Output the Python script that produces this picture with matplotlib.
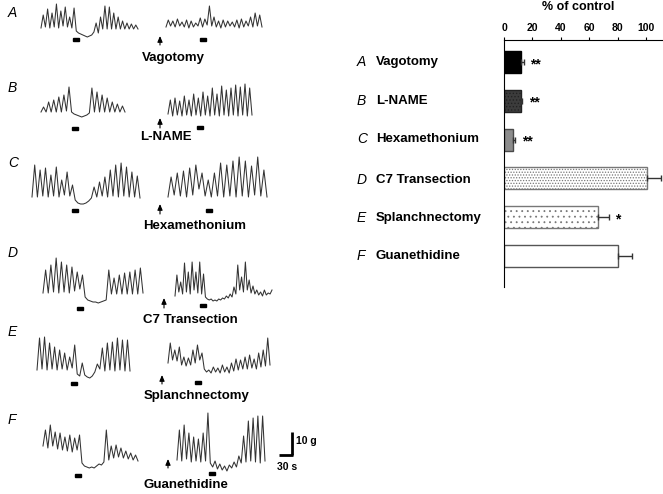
import numpy as np
import matplotlib.pyplot as plt

plt.rcParams['font.family'] = ['Liberation Sans', 'DejaVu Sans']
plt.rcParams['hatch.linewidth'] = 0.6

# bar chart: response after each treatment, % of control
letters = ['A', 'B', 'C', 'D', 'E', 'F']
treatments = ['Vagotomy', 'L-NAME', 'Hexamethonium', 'C7 Transection',
              'Splanchnectomy', 'Guanethidine']
pct_control = [12, 12, 6.5, 100.5, 66.5, 80.5]
pct_sem = [2, 1, 1.5, 10, 7.5, 9.5]
signif = ['**', '**', '**', '', '*', '']

# contraction traces (force), before / after treatment
trace_A_pre = [9, 22, 10, 28, 9, 24, 10, 33, 9, 26, 11, 30, 10, 20, 9, 29, 6, 4, 3, 2, 1, 0, 1, 2,
               5, 14, 4, 20, 8, 31, 8, 30, 8, 24, 8, 20, 8, 16, 8, 14, 8, 13, 8, 12, 8]
trace_A_post = [2, 9, 3, 8, 2, 10, 3, 7, 2, 9, 1, 8, 2, 6, 3, 11, 2, 10, 4, 23, 3, 12, 2, 8, 1, 9,
                2, 8, 3, 7, 2, 9, 1, 10, 2, 8, 3, 12, 2, 16, 3, 14, 2]
trace_B_pre = [5, 10, 5, 15, 5, 17, 5, 20, 5, 22, 6, 30, 5, 3, 2, 1, 0, 1, 2, 4, 29, 5, 25, 5,
               22, 5, 19, 5, 15, 5, 13, 5, 11, 5]
trace_B_post = [4, 18, 2, 20, 3, 17, 2, 22, 3, 18, 2, 24, 3, 20, 2, 26, 3, 22, 2, 30, 3, 24, 2,
                32, 3, 28, 2, 30, 3, 33, 2, 31, 3, 34, 2, 30, 3]
trace_C_pre = [7, 39, 7, 34, 8, 36, 7, 29, 8, 37, 7, 24, 9, 32, 8, 19, 4, 1, 0, 0, 1, 3, 6, 17,
               7, 22, 8, 27, 7, 34, 8, 39, 7, 41, 8, 37, 7, 32, 7, 28, 6]
trace_C_post = [2, 22, 4, 26, 3, 28, 2, 31, 4, 34, 10, 26, 3, 19, 2, 26, 3, 36, 2, 34, 3, 38, 2,
                42, 3, 38, 2, 33, 4, 42, 3, 29, 2]
trace_D_pre = [10, 33, 10, 38, 11, 45, 10, 41, 11, 38, 10, 36, 12, 31, 14, 28, 6, 3, 2, 1, 1, 0,
               1, 2, 3, 33, 9, 25, 9, 28, 9, 30, 9, 31, 9, 33, 9, 35, 10]
trace_D_post = [6, 27, 10, 20, 8, 39, 10, 30, 8, 40, 12, 30, 9, 40, 8, 28, 5, 3, 2, 3, 1, 2, 1,
                3, 2, 4, 3, 6, 4, 8, 5, 15, 8, 37, 12, 25, 10, 40, 12, 22, 9, 16, 8, 12, 7, 10,
                6, 12, 7, 9, 8, 12]
trace_E_pre = [8, 40, 9, 41, 8, 35, 9, 31, 8, 28, 9, 25, 8, 21, 10, 33, 4, 2, 15, 3, 1, 0, 2, 6,
               14, 9, 30, 7, 35, 8, 36, 7, 40, 8, 38, 7, 38, 7]
trace_E_post = [12, 32, 15, 25, 14, 28, 10, 18, 9, 17, 10, 25, 12, 30, 15, 22, 6, 3, 5, 2, 8, 3,
                7, 2, 10, 3, 8, 2, 12, 4, 16, 5, 15, 6, 18, 6, 20, 7, 16, 6, 22, 8, 25, 9, 37, 10]
trace_F_pre = [22, 38, 20, 43, 22, 36, 19, 35, 18, 31, 17, 33, 16, 30, 18, 33, 5, 2, 1, 0, 1, 0,
               2, 4, 3, 6, 38, 8, 22, 10, 23, 11, 20, 10, 17, 9, 15, 8, 13, 7]
trace_F_post = [11, 41, 10, 46, 12, 38, 9, 34, 10, 32, 9, 38, 10, 58, 8, 4, 10, 2, 7, 1, 5, 0, 6,
                3, 9, 4, 15, 8, 35, 9, 50, 10, 53, 9, 55, 8, 55, 10]

traces_pre = [trace_A_pre, trace_B_pre, trace_C_pre, trace_D_pre, trace_E_pre, trace_F_pre]
traces_post = [trace_A_post, trace_B_post, trace_C_post, trace_D_post, trace_E_post, trace_F_post]

W, H = 663, 494
fig = plt.figure(figsize=(W / 100, H / 100), dpi=100)

# overlay in pixel units for letters, markers, arrows, labels
ov = fig.add_axes([0, 0, 1, 1])
ov.set_xlim(0, W)
ov.set_ylim(H, 0)
ov.axis('off')


def px_axes(x0, x1, ybot, h):
    return fig.add_axes([x0 / W, 1 - ybot / H, (x1 - x0) / W, h / H])


# layout of the left panel (pixels)
pre_box = [(41, 138, 37), (41, 125, 117), (32, 140, 204), (43, 143, 303), (37, 130, 378), (43, 138, 468)]
post_box = [(166, 262, 29), (168, 252, 118), (168, 267, 199), (175, 272, 302), (168, 270, 375), (177, 265, 471)]
letter_y = [13, 88, 163, 253, 332, 420]
mark_pre = [(76, 40), (75, 128), (75, 210), (80, 308), (74, 383), (78, 475)]
mark_post = [(203, 40), (200, 127), (209, 210), (203, 305), (198, 382), (212, 473)]
arrows = [(160, 45, 36), (160, 128, 118), (160, 214, 204), (164, 308, 298), (162, 384, 375), (168, 468, 459)]
label_pos = [(173, 58), (166, 137), (195, 226), (190, 320), (197, 396), (186, 485)]

for i in range(6):
    for vals, (x0, x1, yb) in ((traces_pre[i], pre_box[i]), (traces_post[i], post_box[i])):
        h = max(vals)
        a = px_axes(x0, x1, yb, h)
        a.plot(range(len(vals)), vals, color='#333333', lw=0.75, clip_on=False)
        a.set_xlim(0, len(vals) - 1)
        a.set_ylim(0, h)
        a.axis('off')
    ov.text(8, letter_y[i], letters[i], fontsize=10, style='italic', ha='left', va='center')
    for mx, my in (mark_pre[i], mark_post[i]):
        ov.add_patch(plt.Rectangle((mx - 3, my - 1.5), 6, 3, color='black'))
    ax_, y0, y1 = arrows[i]
    ov.annotate('', xy=(ax_, y1), xytext=(ax_, y0),
                arrowprops=dict(arrowstyle='-|>,head_length=0.35,head_width=0.15',
                                color='black', lw=0.8, shrinkA=0, shrinkB=0))
    lx, ly = label_pos[i]
    ov.text(lx, ly, treatments[i], fontsize=9.5, fontweight='bold', ha='center', va='center')

# scale bar
ov.plot([292, 292], [432, 455], color='black', lw=2, solid_capstyle='butt')
ov.plot([279, 293], [455, 455], color='black', lw=2, solid_capstyle='butt')
ov.text(296, 441, '10 g', fontsize=7.5, fontweight='bold', va='center')
ov.text(277, 467, '30 s', fontsize=7.5, fontweight='bold', va='center')

# right panel: bar chart
ax = fig.add_axes([504 / W, 1 - 287 / H, 159 / W, 247 / H])
y = np.arange(len(pct_control))
faces = ['black', '#3c3c3c', '#8c8c8c', 'white', 'white', 'white']
edges = ['black', '#222222', '#4a4a4a', '#777777', '#777777', '#555555']
hatches = [None, '.....', None, '......', '...', None]
bars = ax.barh(y, pct_control, height=0.57, color=faces, edgecolor=edges, linewidth=1)
for b, hp in zip(bars, hatches):
    if hp:
        b.set_hatch(hp)
ax.errorbar(pct_control, y, xerr=[np.zeros(len(y)), pct_sem], fmt='none',
            ecolor='#333333', elinewidth=1, capsize=2.5)
for yi, v, e, s in zip(y, pct_control, pct_sem, signif):
    if s:
        ax.text(v + e + 4.5, yi + 0.05, s, fontsize=10, fontweight='bold', ha='left', va='center')
ax.set_xlim(0, 112)
ax.set_ylim(5.8, -0.57)
ax.xaxis.tick_top()
ax.set_xticks([0, 20, 40, 60, 80, 100])
ax.tick_params(axis='x', length=2, pad=3, labelsize=7.5)
for t in ax.get_xticklabels():
    t.set_fontweight('bold')
ax.set_yticks([])
ax.spines['right'].set_visible(False)
ax.spines['bottom'].set_visible(False)
fig.text(578 / W, 1 - 7 / H, '% of control', fontsize=9, fontweight='bold', ha='center', va='center')

bar_centers_px = [62, 101, 139, 180, 218, 256]
for i in range(6):
    yc = bar_centers_px[i]
    ov.text(357, yc, letters[i], fontsize=10, style='italic', ha='left', va='center')
    ov.text(376, yc, treatments[i], fontsize=9.5, fontweight='bold', ha='left', va='center')

fig.savefig('out.png', dpi=100)
